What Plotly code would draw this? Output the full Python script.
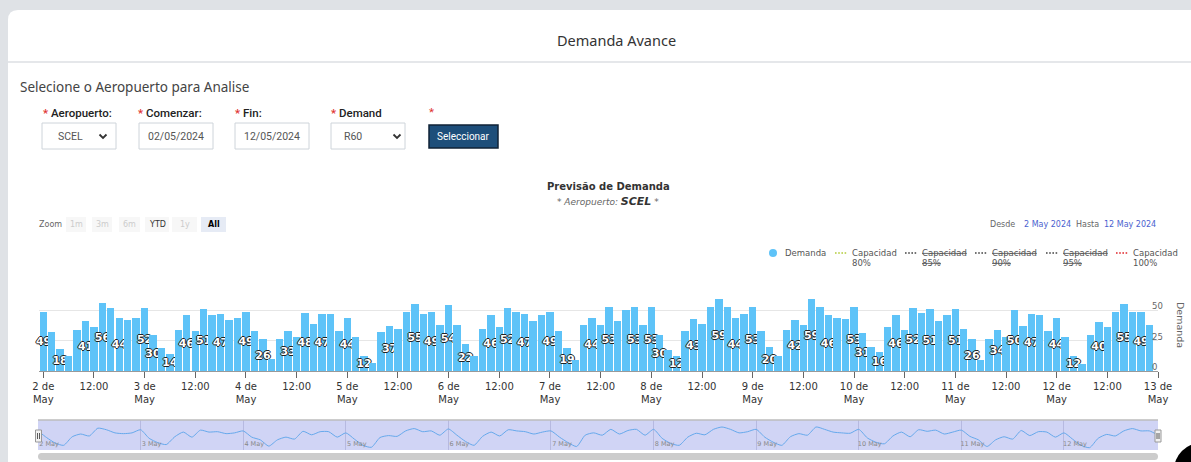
import pandas as pd
import plotly.graph_objects as go

W, H = 1191, 462

# ---------------- data ----------------
START = "2024-05-02 00:00"
STEP_HOURS = 2
demanda = [49, 32, 18, 12, 34, 41, 36, 56, 52, 44, 42, 44,
           52, 30, 19, 14, 34, 46, 33, 51, 46, 47, 42, 44,
           49, 33, 26, 10, 26, 33, 28, 48, 39, 47, 47, 33,
           44, 28, 12, 7, 32, 37, 35, 49, 55, 47, 49, 38,
           54, 38, 22, 12, 35, 46, 36, 52, 49, 47, 41, 46,
           49, 33, 19, 9, 38, 44, 38, 53, 41, 50, 53, 38,
           53, 30, 17, 12, 33, 43, 39, 53, 59, 53, 44, 47,
           53, 33, 20, 12, 34, 42, 38, 59, 53, 46, 44, 43,
           53, 31, 20, 16, 36, 46, 34, 52, 48, 51, 41, 46,
           51, 35, 26, 9, 26, 34, 28, 50, 37, 47, 46, 33,
           44, 28, 12, 6, 30, 40, 36, 49, 55, 49, 49, 38]
# bars whose data label is visible (1-based position)
labeled_bars = [1, 3, 6, 8, 10, 13, 14, 16, 18, 20, 22, 25, 27, 30, 32, 34, 37, 39, 42, 45,
                47, 49, 51, 54, 56, 58, 61, 63, 66, 68, 71, 73, 74, 76, 78, 81, 83, 85, 87, 90,
                92, 94, 97, 98, 100, 102, 104, 106, 109, 111, 114, 116, 118, 121, 123, 126, 129, 131]
y_ticks = [0, 25, 50, 75]
y_tick_text = ["0", "25", "50", ""]
range_start = "2024-05-01 23:00"
range_end = "2024-05-13 00:00"
legend_items = ["Capacidad 80%", "Capacidad 85%", "Capacidad 90%", "Capacidad 95%", "Capacidad 100%"]
legend_hidden = [False, True, True, True, False]
legend_colors = ["#b3cc3b", "#444444", "#444444", "#444444", "#e0262b"]
zoom_buttons = ["1m", "3m", "6m", "YTD", "1y", "All"]

times = pd.date_range(START, periods=len(demanda), freq=f"{STEP_HOURS}h")
bar_text = [str(v) if (i + 1) in labeled_bars else "" for i, v in enumerate(demanda)]
tick_times = pd.date_range("2024-05-02 00:00", range_end, freq="12h")
tick_text = [f"{t.day} de<br>May" if t.hour == 0 else "12:00" for t in tick_times]
nav_days = pd.date_range("2024-05-02", "2024-05-12", freq="D")
nav_text = [f"{d.day} May" for d in nav_days]

BAR_COLOR = "#5ec3f8"


# ---------------- helpers (pixel -> paper) ----------------
def X(p):
    return p / W


def Y(p):
    return 1 - p / H


def rect(x0, y0, x1, y1, fill="rgba(0,0,0,0)", line=None, lw=1, layer="below"):
    return dict(type="rect", xref="paper", yref="paper", x0=X(x0), x1=X(x1), y0=Y(y1), y1=Y(y0),
                fillcolor=fill, line=dict(color=line or "rgba(0,0,0,0)", width=lw if line else 0),
                layer=layer)


def seg(x0, y0, x1, y1, color, width=1, dash="solid", layer="above"):
    return dict(type="line", xref="paper", yref="paper", x0=X(x0), y0=Y(y0), x1=X(x1), y1=Y(y1),
                line=dict(color=color, width=width, dash=dash), layer=layer)


def path(cmds, fill="rgba(0,0,0,0)", line=None, lw=1, layer="below"):
    parts = []
    for c in cmds:
        op, nums = c[0], c[1:]
        pts = [f"{X(nums[i]):.6f},{Y(nums[i + 1]):.6f}" for i in range(0, len(nums), 2)]
        parts.append(op + (" " + " ".join(pts) if pts else ""))
    return dict(type="path", xref="paper", yref="paper", path=" ".join(parts), fillcolor=fill,
                line=dict(color=line or "rgba(0,0,0,0)", width=lw if line else 0), layer=layer)


def txt(x, y, s, size=10, color="#333", family="DejaVu Sans", xanchor="left", weight=None,
        angle=0, style=None):
    font = dict(family=family, size=size, color=color)
    if weight:
        font["weight"] = weight
    if style:
        font["style"] = style
    return dict(x=X(x), y=Y(y), xref="paper", yref="paper", text=s, showarrow=False,
                xanchor=xanchor, yanchor="middle", font=font, textangle=angle, borderpad=0)


shapes, ann = [], []

# ---------------- page chrome ----------------
shapes.append(rect(0, 0, W, H, fill="#dfe2e6"))
shapes.append(path([("M", 8, 462), ("L", 8, 20), ("Q", 8, 10, 18, 10), ("L", 1191, 10),
                    ("L", 1191, 462), ("Z",)], fill="#ffffff"))
shapes.append(seg(8, 62, 1191, 62, "#dcdfe3", 1.5, layer="below"))
ann.append(txt(616, 40, "Demanda Avance", 14.5, "#333", "Noto Sans", "center"))
ann.append(txt(19, 87, "Selecione o Aeropuerto para Analise", 13.5, "#444", "Noto Sans"))

RED = "<span style='color:#e03131'>*</span>"
for x, lab in [(42, "Aeropuerto:"), (137, "Comenzar:"), (234, "Fin:"), (330, "Demand")]:
    ann.append(txt(x, 113, f"{RED} {lab}", 11.5, "#222", "Roboto", weight=500))
ann.append(txt(428, 112, RED, 11.5, "#222", "Roboto"))

for x0, x1 in [(42, 116), (139, 213), (235, 309), (331, 405)]:
    shapes.append(rect(x0, 123, x1, 149, fill="#ffffff", line="#ced4da", lw=1))
for cx in [103, 397]:
    shapes.append(path([("M", cx - 3.5, 134.5), ("L", cx, 138), ("L", cx + 3.5, 134.5)],
                       line="#333", lw=1.8, layer="above"))
ann.append(txt(57, 136.5, "SCEL", 10.5, "#555", "Roboto"))
ann.append(txt(176, 136.5, "02/05/2024", 10.5, "#555", "Roboto", "center"))
ann.append(txt(272, 136.5, "12/05/2024", 10.5, "#555", "Roboto", "center"))
ann.append(txt(343, 136.5, "R60", 10.5, "#555", "Roboto"))
shapes.append(rect(429, 125, 498, 148, fill="#1d4e7a", line="#0f2236", lw=1.5))
ann.append(txt(463.5, 136.5, "Seleccionar", 10, "#ffffff", "Roboto", "center"))

# ---------------- chart header ----------------
ann.append(txt(608, 186, "Previsão de Demanda", 10, "#333", "DejaVu Sans", "center", weight="bold"))
ann.append(txt(608, 201, "* Aeropuerto: <b><span style='font-size:11px;color:#333'>SCEL</span></b> *",
               9, "#666", "DejaVu Sans", "center", style="italic"))

ann.append(txt(38, 224.5, "Zoom", 8, "#666"))
zb_pos = [(66, 86), (92, 112), (119, 140), (145, 169), (172, 197), (201, 226)]
for (x0, x1), lab in zip(zb_pos, zoom_buttons):
    sel = lab == "All"
    shapes.append(rect(x0, 217, x1, 232, fill="#e6ebf5" if sel else "#f7f7f7"))
    color = "#000" if sel else ("#333" if lab == "YTD" else "#cccccc")
    ann.append(txt((x0 + x1) / 2, 224.5, f"<b>{lab}</b>" if sel else lab, 8, color, "DejaVu Sans", "center"))

ann.append(txt(1016, 224, "Desde", 8, "#666", xanchor="right"))
ann.append(txt(1023, 224, "2 May 2024", 8, "#4b5fcf"))
ann.append(txt(1075, 224, "Hasta", 8, "#666"))
ann.append(txt(1157, 224, "12 May 2024", 8, "#4b5fcf", xanchor="right"))

# legend
shapes.append(dict(type="circle", xref="paper", yref="paper", x0=X(769), x1=X(777), y0=Y(257),
                   y1=Y(249), fillcolor=BAR_COLOR, line=dict(width=0), layer="above"))
ann.append(txt(784, 253, "Demanda", 8.5, "#555"))
leg_x = [835, 905, 975, 1046, 1116]
for lx, item, hid, col in zip(leg_x, legend_items, legend_hidden, legend_colors):
    shapes.append(seg(lx, 253, lx + 12, 253, col, 1.6, "1.6px,1.6px"))
    w1, w2 = item.split(" ")
    if hid:
        w1, w2 = f"<s>{w1}</s>", f"<s>{w2}</s>"
    ann.append(txt(lx + 16, 253, w1, 8.5, "#555"))
    ann.append(txt(lx + 16, 262.5, w2, 8.5, "#555"))

ann.append(txt(1181, 325, "Demanda", 9.5, "#666", xanchor="center", angle=90))

# ---------------- navigator chrome ----------------
shapes.append(dict(type="rect", xref="x2 domain", yref="y2 domain", x0=0, x1=1, y0=0, y1=1,
                   fillcolor="#d0d4f5", line=dict(width=0), layer="below"))
shapes.append(seg(38, 420, 1158, 420, "#bdbdbd", 1.5))
for hx in [38.5, 1158]:
    shapes.append(rect(hx - 3, 430, hx + 3, 442, fill="#f2f2f2", line="#999999", lw=1, layer="above"))
    shapes.append(seg(hx - 1, 433, hx - 1, 439, "#333", 0.8))
    shapes.append(seg(hx + 1, 433, hx + 1, 439, "#333", 0.8))
shapes.append(path([("M", 41.5, 453), ("L", 1154.5, 453), ("Q", 1158, 453, 1158, 456.5),
                    ("Q", 1158, 460, 1154.5, 460), ("L", 41.5, 460), ("Q", 38, 460, 38, 456.5),
                    ("Q", 38, 453, 41.5, 453), ("Z",)], fill="#cccccc", layer="above"))
shapes.append(dict(type="circle", xref="paper", yref="paper", x0=X(1174), x1=X(1228), y0=Y(497),
                   y1=Y(443), fillcolor="#000", line=dict(width=0), layer="above"))

# ---------------- traces ----------------
OUTLINE = "-1px 0 0 #222, 1px 0 0 #222, 0 -1px 0 #222, 0 1px 0 #222"
fig = go.Figure()
fig.add_trace(go.Bar(
    x=times, y=demanda, width=STEP_HOURS * 3600e3 * 0.88, marker=dict(color=BAR_COLOR, line=dict(width=0)),
    text=bar_text, textposition="inside", insidetextanchor="middle", textangle=0,
    constraintext="none", cliponaxis=False,
    textfont=dict(family="DejaVu Sans", size=11, color="#ffffff", weight="bold", shadow=OUTLINE),
    name="Demanda", showlegend=False, xaxis="x", yaxis="y"))
fig.add_trace(go.Scatter(
    x=times, y=demanda, mode="lines", line=dict(color="#66a9ec", width=1, shape="spline", smoothing=0.6),
    showlegend=False, xaxis="x2", yaxis="y2", hoverinfo="skip"))

fig.update_layout(
    template="none", width=W, height=H, margin=dict(l=0, r=0, t=0, b=0),
    paper_bgcolor="#ffffff", plot_bgcolor="rgba(0,0,0,0)", showlegend=False, bargap=0,
    shapes=shapes, annotations=ann,
    xaxis=dict(domain=[X(39.1), X(1158)], range=[range_start, range_end], type="date", anchor="y",
               tickvals=tick_times, ticktext=tick_text, ticks="outside", ticklen=6, tickcolor="#666",
               showline=True, linecolor="#999", linewidth=1, showgrid=False, zeroline=False,
               tickfont=dict(family="DejaVu Sans", size=10, color="#333"), automargin=False,
               fixedrange=True),
    yaxis=dict(domain=[Y(371), Y(280)], range=[0, 75], side="right", anchor="x",
               tickvals=y_ticks, ticktext=y_tick_text, showgrid=True, gridcolor="#e6e6e6", gridwidth=1,
               zeroline=False, showline=False, ticks="", ticklabelstandoff=-7, ticklabelshift=-4,
               tickfont=dict(family="DejaVu Sans", size=8.5, color="#666"), automargin=False,
               fixedrange=True),
    xaxis2=dict(domain=[X(38), X(1158)], range=[times[0], times[-1]], type="date", anchor="y2",
                tickvals=nav_days, ticktext=nav_text, ticks="", ticklabelposition="inside",
                ticklabelshift=11, ticklabelstandoff=0, showgrid=True, gridcolor="rgba(90,90,150,0.22)",
                gridwidth=1, showline=False, zeroline=False,
                tickfont=dict(family="DejaVu Sans", size=6.5, color="#888"), automargin=False,
                fixedrange=True),
    yaxis2=dict(domain=[Y(450), Y(420)], range=[0, 77], anchor="x2", visible=False, fixedrange=True),
)

fig.write_html("out.html", config={"displayModeBar": False},
               post_script="document.body.style.margin='0';document.body.style.overflow='hidden';")
